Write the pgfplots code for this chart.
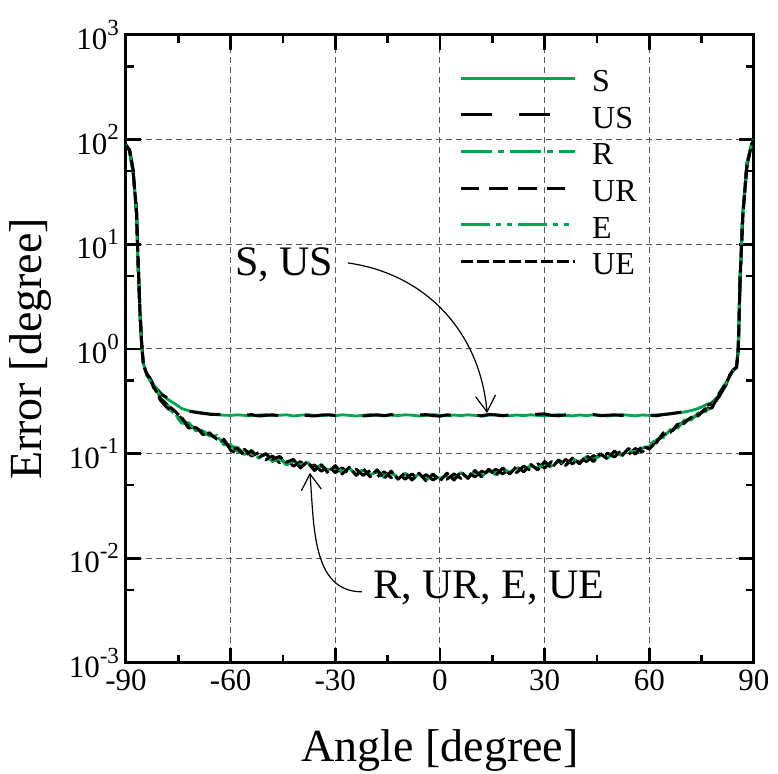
\documentclass[border=0pt]{standalone}
\usepackage{fontspec}
\setmainfont{Liberation Serif}
\usepackage{pgfplots}
\usepackage{pgfplotstable}
\pgfplotsset{compat=1.18}
\usetikzlibrary{arrows.meta}
\definecolor{gr}{RGB}{0,165,80}
\newcommand{\tl}[1]{10\raisebox{7.2pt}{\fontsize{11.5}{12}\selectfont #1}}
\pgfplotstableread{
a S US R UR E UE
-90 90 88 90 88 90 88
-89 78 80 78 80 78 80
-88 50 52 50 52 50 52
-87 20 21 20 21 20 21
-86.5 6 6.5 6 6.5 6 6.5
-86 2.2 2.3 2.2 2.3 2.2 2.3
-85.5 1.1 1.1 1.1 1.1 1.1 1.1
-85 0.72 0.70 0.72 0.70 0.72 0.70
-84 0.58 0.56 0.57 0.58 0.56 0.57
-83 0.51 0.52 0.50 0.51 0.49 0.52
-82 0.45 0.44 0.44 0.42 0.45 0.43
-80 0.38 0.37 0.34 0.32 0.35 0.33
-78 0.33 0.34 0.29 0.27 0.28 0.29
-76 0.30 0.29 0.24 0.25 0.235 0.255
-74 0.27 0.275 0.205 0.215 0.195 0.22
-72 0.257 0.255 0.19 0.175 0.198 0.18
-70 0.25 0.248 0.172 0.185 0.165 0.178
-68 0.245 0.243 0.165 0.152 0.17 0.158
-66 0.24 0.238 0.148 0.158 0.142 0.155
-64 0.236 0.237 0.145 0.135 0.15 0.138
-62 0.233 0.236 0.128 0.138 0.122 0.133
-60 0.232 0.235 0.117 0.108 0.122 0.112
-58 0.235 0.231 0.115 0.100 0.104 0.112
-56 0.232 0.233 0.098 0.110 0.106 0.096
-54 0.230 0.236 0.108 0.095 0.099 0.106
-52 0.234 0.229 0.090 0.102 0.094 0.092
-50 0.236 0.232 0.101 0.087 0.097 0.100
-48 0.231 0.235 0.085 0.095 0.084 0.088
-46 0.233 0.230 0.093 0.082 0.090 0.094
-44 0.235 0.234 0.080 0.089 0.078 0.083
-42 0.229 0.233 0.087 0.076 0.085 0.088
-40 0.233 0.237 0.075 0.084 0.078 0.073
-38 0.236 0.231 0.083 0.072 0.081 0.084
-36 0.232 0.229 0.070 0.078 0.073 0.069
-34 0.230 0.234 0.079 0.068 0.076 0.078
-32 0.234 0.235 0.067 0.076 0.070 0.065
-30 0.231 0.232 0.076 0.066 0.074 0.077
-28 0.235 0.230 0.065 0.073 0.068 0.064
-26 0.232 0.236 0.073 0.064 0.071 0.074
-24 0.229 0.233 0.063 0.071 0.065 0.062
-22 0.233 0.229 0.071 0.062 0.069 0.072
-20 0.236 0.232 0.061 0.069 0.063 0.060
-18 0.232 0.235 0.069 0.060 0.067 0.070
-16 0.230 0.231 0.059 0.067 0.062 0.058
-14 0.234 0.236 0.067 0.059 0.065 0.068
-12 0.231 0.230 0.058 0.065 0.060 0.057
-10 0.235 0.233 0.065 0.057 0.063 0.066
-8 0.233 0.229 0.057 0.064 0.058 0.056
-6 0.229 0.234 0.064 0.056 0.062 0.065
-4 0.232 0.236 0.056 0.063 0.057 0.055
-2 0.236 0.231 0.063 0.056 0.062 0.064
0 0.233 0.228 0.056 0.062 0.058 0.055
2 0.230 0.235 0.064 0.057 0.062 0.065
4 0.234 0.232 0.057 0.064 0.059 0.056
6 0.231 0.229 0.066 0.058 0.064 0.067
8 0.235 0.236 0.059 0.066 0.060 0.058
10 0.232 0.233 0.068 0.060 0.066 0.069
12 0.229 0.230 0.061 0.068 0.062 0.060
14 0.233 0.237 0.070 0.062 0.068 0.071
16 0.236 0.234 0.063 0.071 0.065 0.062
18 0.232 0.230 0.072 0.064 0.070 0.073
20 0.230 0.235 0.065 0.073 0.067 0.064
22 0.234 0.232 0.075 0.066 0.073 0.076
24 0.231 0.229 0.068 0.076 0.070 0.067
26 0.235 0.234 0.078 0.069 0.076 0.079
28 0.232 0.238 0.071 0.080 0.073 0.070
30 0.229 0.240 0.083 0.073 0.080 0.084
32 0.233 0.232 0.074 0.084 0.077 0.073
34 0.236 0.230 0.086 0.076 0.084 0.087
36 0.232 0.235 0.078 0.088 0.080 0.077
38 0.230 0.233 0.090 0.080 0.088 0.091
40 0.234 0.229 0.082 0.092 0.084 0.080
42 0.231 0.234 0.094 0.084 0.092 0.096
44 0.235 0.236 0.086 0.096 0.088 0.084
46 0.233 0.231 0.099 0.088 0.096 0.100
48 0.229 0.233 0.090 0.101 0.093 0.089
50 0.232 0.235 0.104 0.093 0.102 0.106
52 0.236 0.232 0.096 0.107 0.098 0.094
54 0.233 0.230 0.110 0.098 0.107 0.112
56 0.230 0.234 0.101 0.112 0.104 0.099
58 0.234 0.236 0.116 0.104 0.113 0.118
60 0.232 0.233 0.113 0.125 0.117 0.111
62 0.235 0.230 0.135 0.127 0.14 0.13
64 0.237 0.236 0.147 0.158 0.142 0.152
66 0.242 0.240 0.165 0.155 0.17 0.16
68 0.245 0.246 0.178 0.19 0.172 0.185
70 0.25 0.252 0.205 0.195 0.21 0.198
72 0.258 0.255 0.215 0.228 0.21 0.222
74 0.27 0.268 0.24 0.23 0.245 0.235
76 0.29 0.285 0.255 0.268 0.25 0.262
78 0.31 0.30 0.285 0.27 0.29 0.275
80 0.36 0.35 0.37 0.36 0.38 0.37
82 0.45 0.46 0.47 0.46 0.48 0.47
83 0.55 0.54 0.55 0.56 0.54 0.55
84 0.63 0.62 0.62 0.63 0.62 0.63
85 0.66 0.67 0.66 0.67 0.66 0.67
85.5 1.0 1.0 1.0 1.0 1.0 1.0
86 4.6 4.4 4.6 4.4 4.6 4.4
86.8 20 19 20 19 20 19
88 60 58 60 58 60 58
89.4 93 91 93 91 93 91
90 100 98 100 98 100 98
}\datatab
\begin{document}
\begin{tikzpicture}
\useasboundingbox (-63pt,-55.5pt) rectangle (326pt,331.5pt);
\begin{axis}[
  at={(0,0)}, anchor=south west,
  scale only axis, width=314pt, height=314pt,
  xmin=-90, xmax=90, ymode=log, ymin=1e-3, ymax=1e3,
  xtick={-90,-60,-30,0,30,60,90},
  xticklabels={-90,-60,-30,0,30,60,90},
  minor xtick={-75,-45,-15,15,45,75},
  ytick={1e-3,1e-2,1e-1,1,10,100,1000},
  yticklabels={\tl{-3},\tl{-2},\tl{-1},\tl{0},\tl{1},\tl{2},\tl{3}},
  minor ytick={5e-3,5e-2,5e-1,5,50,500},
  tick align=inside,
  major tick length=7.5pt, minor tick length=4pt,
  every tick/.style={black, line width=1.2pt},
  axis line style={line width=1.5pt},
  tick label style={font=\fontsize{15.5}{18}\selectfont},
  grid=major,
  major grid style={black!65, line width=0.5pt, dash pattern=on 3pt off 2pt},
  xlabel={Angle [degree]}, ylabel={Error [degree]},
  label style={font=\fontsize{23}{27}\selectfont},
  xlabel style={at={(axis description cs:0.5,-0.1576)}, anchor=base},
  ylabel style={at={(axis description cs:-0.1338,0.5)}, anchor=base},
  legend style={at={(rel axis cs:0.53,0.950)}, anchor=north west, draw=none, fill=none,
    font=\fontsize{16}{18}\selectfont, row sep=3.3pt, inner sep=0pt,
    nodes={inner sep=2pt, text height=10.5pt, text depth=0.5pt},
    /tikz/every odd column/.append style={column sep=6pt}},
  legend cell align=left,
  legend image code/.code={\draw[#1] (0pt,1.7pt) -- (57pt,1.7pt);},
  every axis plot/.append style={line join=round},
]
\addplot[gr, line width=1.4pt] table[x=a,y=S] {\datatab};
\addplot[black, line width=1.5pt, dash pattern=on 15.5pt off 13.5pt] table[x=a,y=US] {\datatab};
\addplot[gr, line width=1.4pt, dash pattern=on 15.5pt off 3pt on 3pt off 3pt] table[x=a,y=R] {\datatab};
\addplot[black, line width=1.5pt, dash pattern=on 9.3pt off 5pt] table[x=a,y=UR] {\datatab};
\addplot[gr, line width=1.4pt, dash pattern=on 14.5pt off 3pt on 2.5pt off 3pt on 2.5pt off 3pt] table[x=a,y=E] {\datatab};
\addplot[black, line width=1.5pt, dash pattern=on 6pt off 2pt] table[x=a,y=UE] {\datatab};
\legend{S,US,R,UR,E,UE}
\node[anchor=west, font=\fontsize{21}{24}\selectfont, inner sep=0pt] at (-58.8,6.35) {S, US};
\draw[line width=0.6pt, -{Straight Barb[length=8pt, width=10pt]}] (-26.4,6.64) to[out=-8, in=95] (13.5,0.245);
\node[anchor=west, font=\fontsize{21}{24}\selectfont, inner sep=0pt] at (-19.2,0.00525) {R, UR, E, UE};
\draw[line width=0.6pt, -{Straight Barb[length=8pt, width=10pt]}] (-22.4,0.00479) to[out=180, in=-85] (-37.3,0.0656);
\end{axis}
\end{tikzpicture}
\end{document}
